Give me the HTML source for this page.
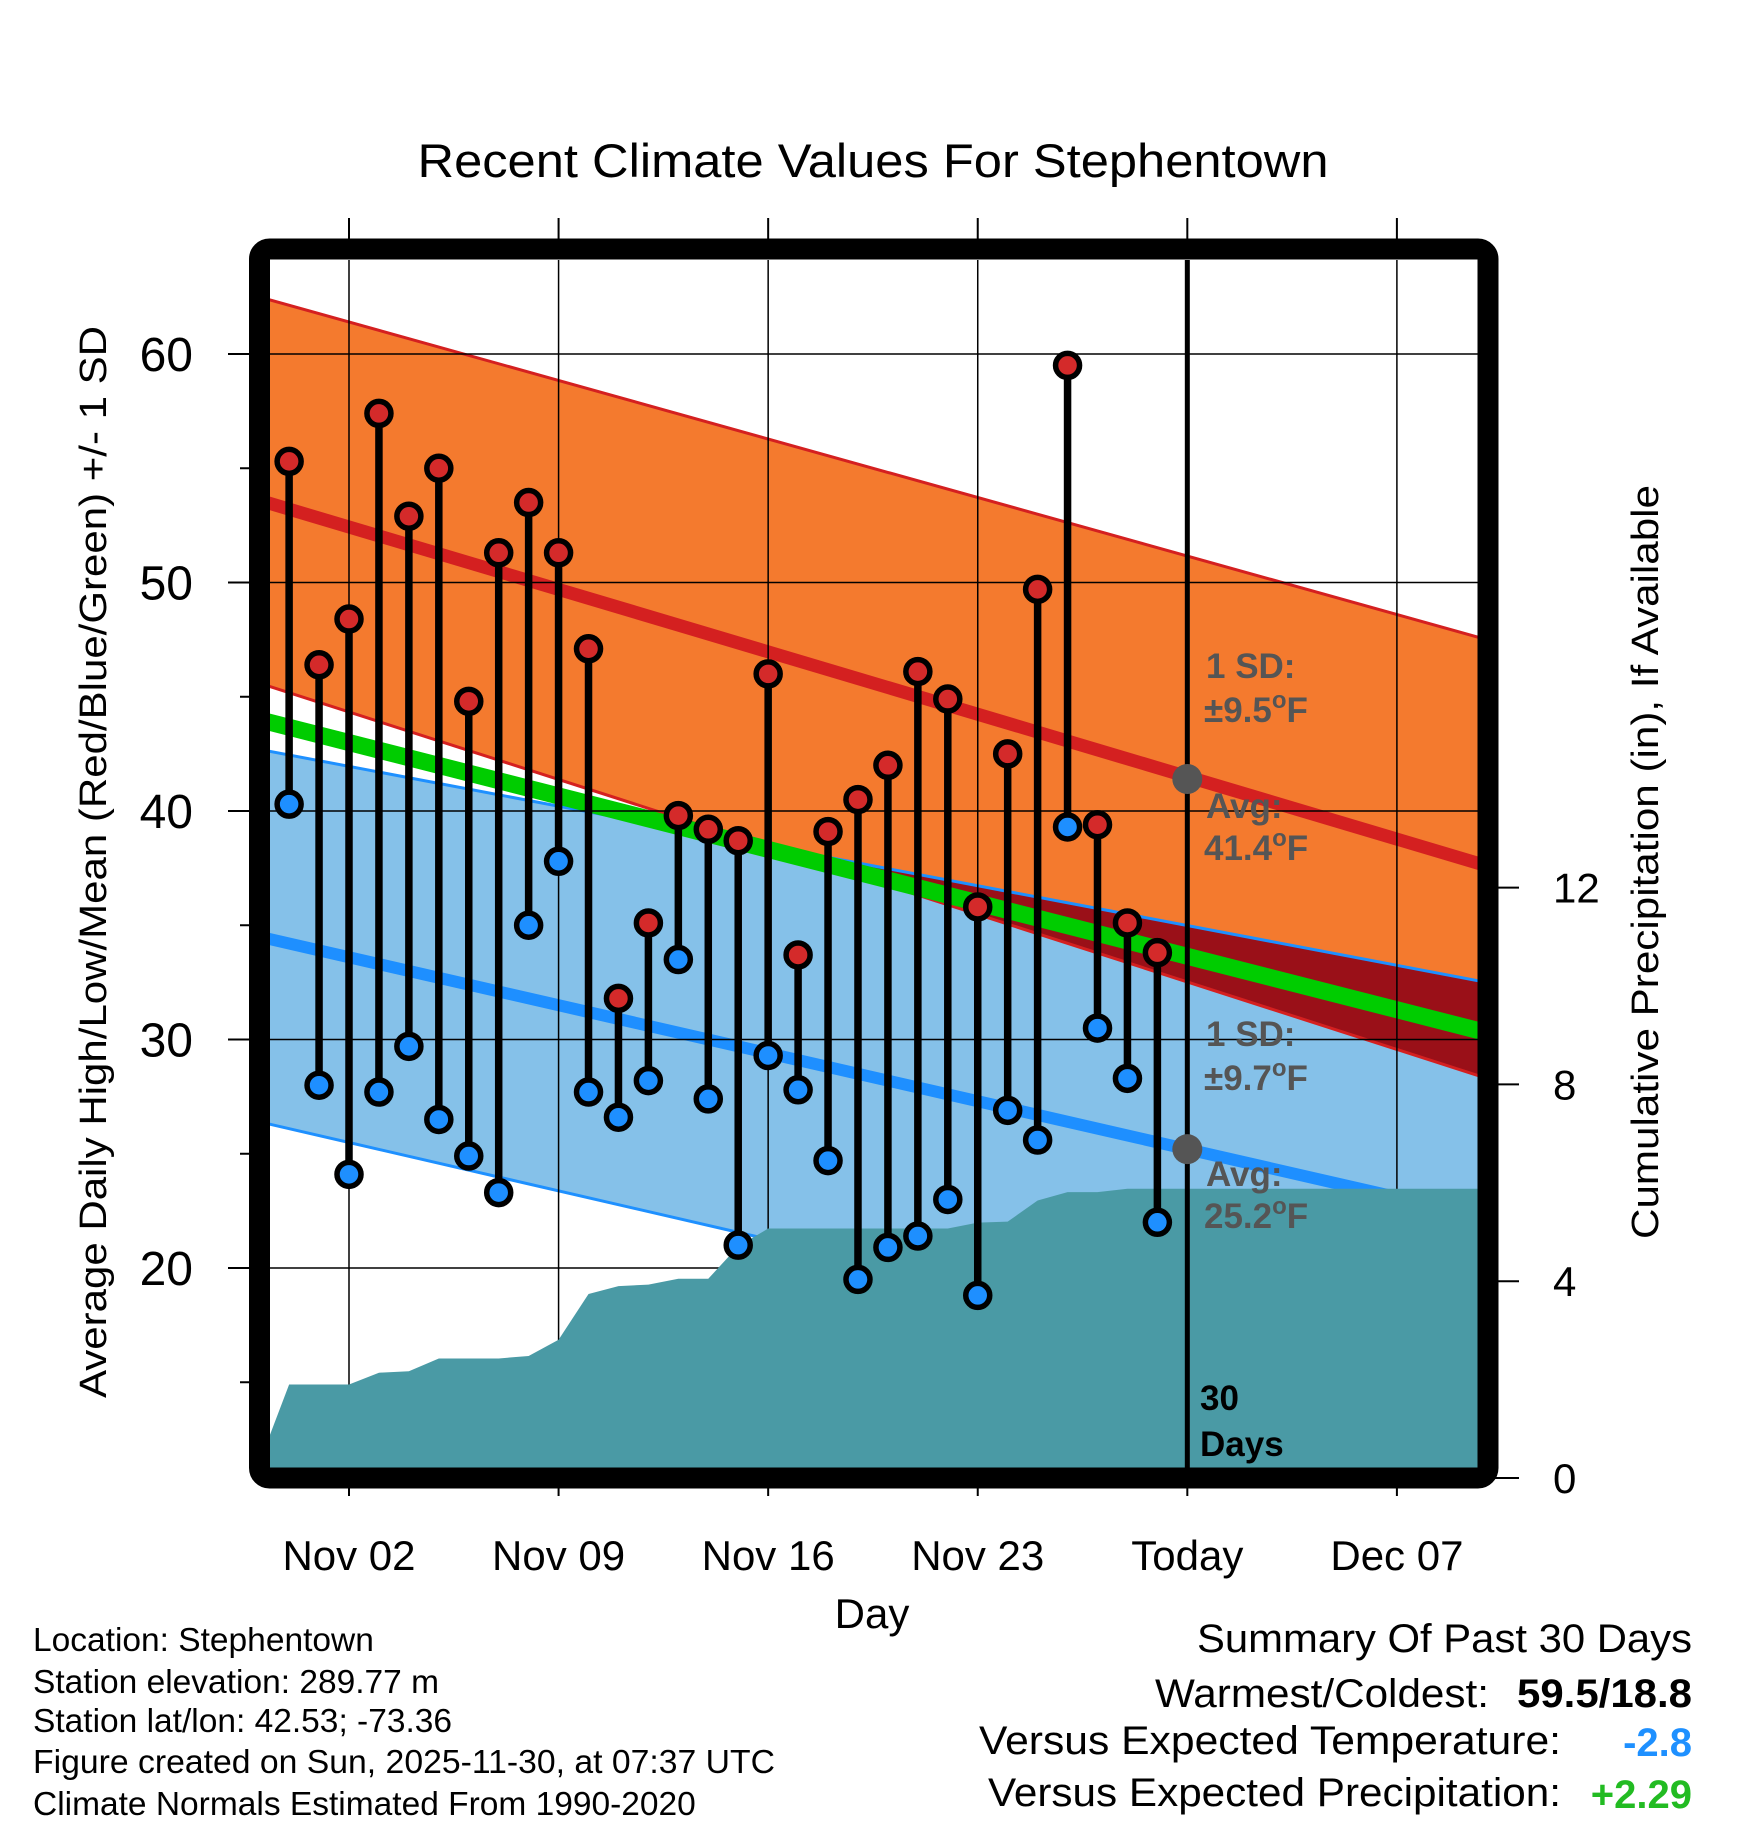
<!DOCTYPE html>
<html><head><meta charset="utf-8"><style>
html,body{margin:0;padding:0;background:#fff;}
svg{display:block;font-family:"Liberation Sans",sans-serif;}
</style></head><body>
<svg id="chart" width="1748" height="1828" viewBox="0 0 1748 1828" xmlns="http://www.w3.org/2000/svg">
<defs>
<clipPath id="plotClip"><rect x="270" y="260" width="1208" height="1208"/></clipPath>
<clipPath id="orangeClip"><polygon id="orangeClipPoly"/></clipPath>
<clipPath id="blueClip"><polygon id="blueClipPoly"/></clipPath>
</defs>
<text x="873" y="177" font-size="47" text-anchor="middle" textLength="911" lengthAdjust="spacingAndGlyphs">Recent Climate Values For Stephentown</text>
<g id="plot" clip-path="url(#plotClip)"></g>
<g id="axes"></g>
<rect x="259.5" y="249" width="1228.5" height="1229" rx="10" fill="none" stroke="#000" stroke-width="21"/>
<text transform="translate(106,862) rotate(-90)" font-size="38" text-anchor="middle" textLength="1072" lengthAdjust="spacingAndGlyphs">Average Daily High/Low/Mean (Red/Blue/Green) +/- 1 SD</text>
<text transform="translate(1658,862) rotate(-90)" font-size="38" text-anchor="middle" textLength="754" lengthAdjust="spacingAndGlyphs">Cumulative Precipitation (in), If Available</text>
<text x="872" y="1628" font-size="42" text-anchor="middle">Day</text>
<g font-size="33.5">
<text x="33" y="1651">Location: Stephentown</text>
<text x="33" y="1693">Station elevation: 289.77 m</text>
<text x="33" y="1732">Station lat/lon: 42.53; -73.36</text>
<text x="33" y="1773" textLength="742" lengthAdjust="spacingAndGlyphs">Figure created on Sun, 2025-11-30, at 07:37 UTC</text>
<text x="33" y="1815">Climate Normals Estimated From 1990-2020</text>
</g>
<g font-size="40">
<text x="1692" y="1652" text-anchor="end" textLength="495" lengthAdjust="spacingAndGlyphs">Summary Of Past 30 Days</text>
<text x="1489" y="1707" text-anchor="end" textLength="334" lengthAdjust="spacingAndGlyphs">Warmest/Coldest:</text>
<text x="1692" y="1707" text-anchor="end" font-weight="bold" textLength="175" lengthAdjust="spacingAndGlyphs">59.5/18.8</text>
<text x="1561" y="1754" text-anchor="end" textLength="582" lengthAdjust="spacingAndGlyphs">Versus Expected Temperature:</text>
<text x="1692" y="1756" text-anchor="end" font-weight="bold" fill="#1e90ff">-2.8</text>
<text x="1561" y="1806" text-anchor="end" textLength="573" lengthAdjust="spacingAndGlyphs">Versus Expected Precipitation:</text>
<text x="1692" y="1808" text-anchor="end" font-weight="bold" fill="#22bb22">+2.29</text>
</g>
</svg>
<script>
// ---- data ----
const days = [0,1,2,3,4,5,6,7,8,9,10,11,12,13,14,15,16,17,18,19,20,21,22,23,24,25,26,27,28,29];
const highs = [55.3,46.4,48.4,57.4,52.9,55.0,44.8,51.3,53.5,51.3,47.1,31.8,35.1,39.8,39.2,38.7,46.0,33.7,39.1,40.5,42.0,46.1,44.9,35.8,42.5,49.7,59.5,39.4,35.1,33.8];
const lows = [40.3,28.0,24.1,27.7,29.7,26.5,24.9,23.3,35.0,37.8,27.7,26.6,28.2,33.5,27.4,21.0,29.3,27.8,24.7,19.5,20.9,21.4,23.0,18.8,26.9,25.6,39.3,30.5,28.3,22.0];
const precipDays = [-1,0,1,2,3,4,5,6,7,8,9,10,11,12,13,14,15,16,17,18,19,20,21,22,23,24,25,26,27,28,29,40];
const precipCum = [0.3,1.9,1.9,1.9,2.14,2.17,2.43,2.43,2.43,2.48,2.81,3.74,3.9,3.93,4.05,4.05,4.71,5.07,5.07,5.07,5.07,5.07,5.07,5.07,5.19,5.21,5.64,5.81,5.81,5.88,5.88,5.88];
const normDays = [-1,40];
const highUpper = [62.5,47.5];
const highAvg = [53.6,37.6];
const highLower = [45.6,28.3];
const lowUpper = [42.7,32.5];
const lowAvg = [34.5,22.2];
const lowLower = [26.4,14.0];
const meanNorm = [44.0,30.3];
const yTicks = [20,30,40,50,60];
const yMinorTicks = [15,25,35,45,55];
const pTicks = [0,4,8,12];
const xTickDays = [2,9,16,23,30,37];
const xTickLabels = ["Nov 02","Nov 09","Nov 16","Nov 23","Today","Dec 07"];
const todayDay = 30;
const todayHigh = 41.4, todayLow = 25.2;

// ---- scales ----
const X = d => 349 + (d - 2) * 29.94;
const Y = t => 354 + (60 - t) * 22.85;
const P = p => 1478 - p * 49.2;
const NS = "http://www.w3.org/2000/svg";
const plot = document.getElementById('plot');
const axes = document.getElementById('axes');
function mk(tag, attrs, parent){
  const e = document.createElementNS(NS, tag);
  for (const k in attrs) e.setAttribute(k, attrs[k]);
  parent.appendChild(e);
  return e;
}
const line2 = a => normDays.map((d,i)=>X(d)+','+Y(a[i]));
const band = (a,b) => line2(a).concat(line2(b).reverse()).join(' ');

let e;
e = mk('polygon',{points:band(highUpper,highLower),fill:'#f47a2e'},plot);


e = mk('polygon',{points:band(lowUpper,lowLower),fill:'#85c1e9'},plot);


document.getElementById('orangeClipPoly').setAttribute('points',band(highUpper,highLower));
document.getElementById('blueClipPoly').setAttribute('points',band(lowUpper,lowLower));
const g1 = mk('g',{'clip-path':'url(#orangeClip)'},plot);
const g2 = mk('g',{'clip-path':'url(#blueClip)'},g1);
e = mk('rect',{x:250,y:240,width:1260,height:1260,fill:'#9a1018'},g2);


[[highUpper,'#d42020'],[highLower,'#d42020'],[lowUpper,'#1e90ff'],[lowLower,'#1e90ff']].forEach(([a,c])=>{
  const l = mk('polyline',{points:line2(a).join(' '),fill:'none',stroke:c,'stroke-width':3},plot);
  
  
});
e = mk('polyline',{points:line2(highAvg).join(' '),fill:'none',stroke:'#d42020','stroke-width':13},plot);


e = mk('polyline',{points:line2(lowAvg).join(' '),fill:'none',stroke:'#1e8fff','stroke-width':12},plot);


e = mk('polyline',{points:line2(meanNorm).join(' '),fill:'none',stroke:'#00cc00','stroke-width':17},plot);



// gridlines (inside)
yTicks.forEach(t=>{
  const l = mk('line',{x1:250,x2:1500,y1:Y(t),y2:Y(t),stroke:'#000','stroke-width':1.5},plot);
  
  
});
xTickDays.forEach(d=>{
  const l = mk('line',{x1:X(d),x2:X(d),y1:240,y2:1490,stroke:'#000','stroke-width':1.5},plot);
  
  
});

// precip area
const pp = precipDays.map((d,i)=>X(d)+','+P(precipCum[i]));
pp.push(X(40)+','+P(-1)); pp.push(X(-1)+','+P(-1));
e = mk('polygon',{points:pp.join(' '),fill:'#4a9aa5'},plot);



// today line
e = mk('line',{x1:X(todayDay),x2:X(todayDay),y1:250,y2:1478,stroke:'#000','stroke-width':5},plot);



// stems and dots
days.forEach((d,i)=>{
  const s = mk('line',{x1:X(d),x2:X(d),y1:Y(highs[i]),y2:Y(lows[i]),stroke:'#000','stroke-width':7.5},plot);
  
  
});
days.forEach((d,i)=>{
  const h = mk('circle',{cx:X(d),cy:Y(highs[i]),r:12,fill:'#d42a2a',stroke:'#000','stroke-width':5.5},plot);
  
  
  const l = mk('circle',{cx:X(d),cy:Y(lows[i]),r:12,fill:'#1e8fff',stroke:'#000','stroke-width':5.5},plot);
  
  
});

// gray today dots
e = mk('circle',{cx:X(todayDay),cy:Y(todayHigh),r:15,fill:'#555'},plot);


e = mk('circle',{cx:X(todayDay),cy:Y(todayLow),r:15,fill:'#555'},plot);



// annotations
function ann(x,y,txt,name,fill,sup){
  const t = mk('text',{x:x,y:y,'font-size':35,'font-weight':'bold',fill:fill},plot);
  
  
  if (sup){
    const a = document.createElementNS(NS,'tspan'); a.textContent = txt; t.appendChild(a);
    const b = document.createElementNS(NS,'tspan'); b.setAttribute('dy','-14'); b.setAttribute('font-size','24'); b.textContent='o'; t.appendChild(b);
    const c = document.createElementNS(NS,'tspan'); c.setAttribute('dy','14'); c.textContent='F'; t.appendChild(c);
  } else t.textContent = txt;
}
ann(1206,678,'1 SD:','high-sd-label','#555',false);
ann(1204,722,'\u00b19.5','high-sd-value','#555',true);
ann(1206,818,'Avg:','high-avg-label','#555',false);
ann(1204,860,'41.4','high-avg-value','#555',true);
ann(1206,1046,'1 SD:','low-sd-label','#555',false);
ann(1204,1090,'\u00b19.7','low-sd-value','#555',true);
ann(1206,1186,'Avg:','low-avg-label','#555',false);
ann(1204,1228,'25.2','low-avg-value','#555',true);
ann(1200,1410,'30','days-count-label','#000',false);
ann(1200,1456,'Days','days-word-label','#000',false);

// axes ticks & labels
yTicks.forEach(t=>{
  const l = mk('line',{x1:228,x2:252,y1:Y(t),y2:Y(t),stroke:'#000','stroke-width':2},axes);
  
  
  const tx = mk('text',{x:193,y:Y(t)+17,'font-size':48,'text-anchor':'end'},axes);
  tx.textContent = t;
  
  
});
yMinorTicks.forEach(t=>{
  const l = mk('line',{x1:240,x2:252,y1:Y(t),y2:Y(t),stroke:'#000','stroke-width':2},axes);
  
  
});
pTicks.forEach(p=>{
  const l = mk('line',{x1:1495,x2:1519,y1:P(p),y2:P(p),stroke:'#000','stroke-width':2},axes);
  
  
  const tx = mk('text',{x:1553,y:P(p)+15,'font-size':42},axes);
  tx.textContent = p;
  
  
});
xTickDays.forEach((d,i)=>{
  const l1 = mk('line',{x1:X(d),x2:X(d),y1:218,y2:242,stroke:'#000','stroke-width':2},axes);
  
  
  const l2 = mk('line',{x1:X(d),x2:X(d),y1:1484,y2:1496,stroke:'#000','stroke-width':2},axes);
  
  
  const tx = mk('text',{x:X(d),y:1570,'font-size':42,'text-anchor':'middle'},axes);
  tx.textContent = xTickLabels[i];
  
  
});
</script>
</body></html>
